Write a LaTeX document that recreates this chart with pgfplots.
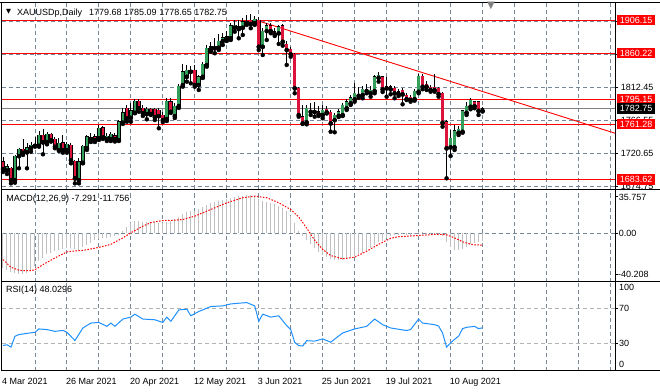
\documentclass[border=0pt]{standalone}
\usepackage{pgfplots}
\pgfplotsset{compat=1.18}
\usepackage{pgfplotstable}
\usepackage{fontspec}
\setmainfont{Liberation Sans}
\newfontfamily\dejavu{DejaVu Sans}
\definecolor{mtgrid}{RGB}{119,136,153}
\definecolor{bull}{RGB}{50,160,90}
\definecolor{bear}{RGB}{220,20,60}
\definecolor{histc}{RGB}{192,192,192}
\definecolor{rsic}{RGB}{30,144,255}

\pgfplotstableread{
i O H L C
0 1708.9 1715.2 1694.3 1698.5
1 1696.4 1705.5 1691.5 1701.7
2 1699.5 1701.7 1678.5 1683.1
3 1683.1 1718.0 1679.4 1716.6
4 1716.6 1727.4 1699.5 1726.0
5 1726.0 1739.9 1718.0 1721.2
6 1721.8 1734.3 1699.5 1728.2
7 1727.8 1736.6 1722.6 1732.0
8 1731.0 1742.7 1729.6 1732.9
9 1731.0 1751.9 1729.6 1745.9
10 1745.9 1754.3 1719.0 1735.7
11 1736.1 1749.7 1732.9 1746.9
12 1746.9 1748.3 1736.6 1738.9
13 1739.9 1743.5 1727.4 1729.6
14 1725.0 1741.3 1723.6 1734.3
15 1735.2 1745.9 1721.2 1725.0
16 1725.0 1736.6 1721.2 1732.9
17 1732.0 1734.3 1706.4 1711.0
18 1709.6 1711.0 1678.5 1685.5
19 1683.1 1713.4 1678.5 1708.7
20 1707.3 1732.0 1706.4 1730.6
21 1727.4 1745.9 1725.0 1743.5
22 1742.7 1748.7 1736.1 1739.9
23 1743.5 1747.3 1736.1 1738.9
24 1741.3 1759.9 1738.9 1755.3
25 1756.1 1758.5 1740.3 1742.7
26 1739.9 1748.7 1737.5 1744.5
27 1739.9 1750.1 1737.5 1746.9
28 1744.9 1748.7 1736.8 1739.9
29 1738.9 1766.8 1737.5 1764.5
30 1763.1 1783.2 1761.3 1777.0
31 1783.2 1787.8 1764.5 1769.2
32 1770.0 1790.1 1764.5 1779.8
33 1777.0 1795.7 1776.2 1793.3
34 1793.3 1795.7 1778.4 1783.2
35 1783.2 1787.8 1772.4 1776.2
36 1775.2 1785.4 1767.8 1781.8
37 1782.2 1783.2 1773.8 1775.2
38 1781.8 1784.0 1766.8 1770.6
39 1780.8 1783.6 1755.3 1772.4
40 1773.8 1778.0 1764.0 1766.8
41 1768.2 1797.5 1765.4 1793.3
42 1792.4 1797.5 1776.6 1778.4
43 1772.4 1790.5 1769.6 1786.4
44 1786.4 1817.1 1783.6 1814.3
45 1815.7 1844.5 1813.3 1834.2
46 1827.2 1843.6 1820.3 1836.6
47 1834.2 1842.6 1818.0 1836.6
48 1836.6 1843.6 1813.3 1815.7
49 1815.7 1829.6 1808.7 1827.2
50 1827.2 1847.7 1825.4 1844.5
51 1843.6 1871.5 1841.2 1866.9
52 1865.5 1876.1 1862.1 1869.1
53 1866.9 1880.8 1859.9 1870.1
54 1867.7 1886.4 1864.5 1877.0
55 1877.0 1887.8 1871.5 1881.6
56 1879.4 1891.0 1877.0 1883.0
57 1880.8 1901.7 1878.4 1898.4
58 1895.6 1906.3 1890.0 1899.4
59 1897.0 1906.3 1880.8 1893.8
60 1895.6 1908.7 1885.4 1904.0
61 1904.9 1913.3 1899.4 1901.7
62 1906.3 1914.3 1894.8 1900.8
63 1902.1 1911.9 1899.4 1907.7
64 1906.3 1910.5 1864.5 1869.1
65 1869.1 1894.8 1857.5 1891.0
66 1891.0 1901.7 1878.4 1898.4
67 1898.4 1901.7 1887.8 1891.0
68 1890.0 1894.8 1884.0 1886.4
69 1887.8 1899.4 1872.9 1897.0
70 1898.4 1900.8 1870.5 1876.1
71 1872.4 1877.0 1843.6 1864.5
72 1865.9 1869.1 1855.1 1858.5
73 1858.5 1859.9 1804.1 1811.1
74 1811.1 1813.3 1771.4 1773.8
75 1771.4 1787.8 1761.3 1762.2
76 1763.6 1787.8 1760.8 1783.2
77 1780.8 1790.1 1773.8 1778.4
78 1778.0 1792.4 1771.4 1780.8
79 1778.4 1786.4 1772.4 1774.8
80 1773.8 1787.8 1769.2 1780.8
81 1781.8 1786.4 1775.9 1777.6
82 1777.6 1780.8 1750.5 1762.2
83 1766.8 1776.6 1749.7 1773.8
84 1772.8 1782.2 1771.0 1778.4
85 1773.8 1790.5 1772.4 1787.8
86 1783.2 1796.1 1780.8 1792.4
87 1790.1 1801.7 1787.8 1797.9
88 1795.7 1818.0 1792.4 1804.1
89 1802.7 1813.3 1797.9 1800.7
90 1801.7 1814.7 1797.1 1809.7
91 1808.7 1816.6 1804.1 1807.3
92 1804.1 1814.7 1799.3 1808.7
93 1807.3 1829.6 1804.1 1827.2
94 1825.8 1834.2 1820.3 1829.6
95 1827.2 1828.6 1805.9 1809.7
96 1811.1 1827.2 1799.3 1813.3
97 1813.3 1815.7 1802.7 1809.7
98 1811.1 1814.3 1797.1 1804.1
99 1806.3 1810.1 1800.3 1803.1
100 1808.7 1811.1 1788.7 1802.7
101 1801.7 1804.1 1794.7 1796.1
102 1798.5 1801.7 1792.4 1794.7
103 1796.1 1809.7 1793.8 1807.3
104 1806.3 1830.6 1804.1 1828.2
105 1828.2 1830.6 1809.7 1813.3
106 1816.6 1821.2 1808.7 1813.3
107 1812.5 1815.7 1806.3 1808.7
108 1812.5 1830.6 1806.3 1808.7
109 1811.1 1813.3 1799.3 1803.1
110 1804.1 1806.3 1757.5 1763.1
111 1764.5 1766.8 1685.5 1727.4
112 1728.8 1752.9 1716.6 1741.3
113 1728.8 1759.9 1725.0 1751.9
114 1749.1 1758.5 1745.9 1753.9
115 1750.5 1780.8 1749.1 1779.8
116 1777.0 1792.4 1773.8 1786.4
117 1785.4 1797.1 1781.8 1794.7
118 1792.4 1793.8 1783.2 1786.4
119 1792.4 1793.8 1773.8 1779.7
120 1779.68 1785.09 1778.65 1782.75
}\ohlc

\pgfplotstableread{
i h
0 -34
1 -36
2 -38
3 -39
4 -40
5 -40.2
6 -39
7 -37
8 -32
9 -27
10 -24
11 -21
12 -19.5
13 -18
14 -17
15 -16
16 -15
17 -14.5
18 -16
19 -16.5
20 -13.5
21 -11.5
22 -9.5
23 -7
24 -5.5
25 -5
26 -5
27 -4
28 -3
29 -1.5
30 2
31 6
32 10
33 12
34 12
35 11.5
36 11.5
37 11.5
38 11
39 10
40 10
41 11
42 12
43 14
44 16
45 18.5
46 20.5
47 21.5
48 22
49 24
50 26
51 28
52 29.5
53 30.5
54 31.5
55 32.5
56 33.5
57 34.5
58 35.5
59 36.5
60 37
61 37.4
62 37.2
63 36.8
64 34
65 32
66 31
67 30
68 28.5
69 27
70 25
71 22
72 17
73 10
74 2
75 -3
76 -7
77 -11
78 -15
79 -18.5
80 -21.5
81 -23.5
82 -25.5
83 -26.5
84 -26.5
85 -26
86 -25
87 -24
88 -22.5
89 -21
90 -19.5
91 -17.5
92 -15
93 -12
94 -9
95 -7.5
96 -4.5
97 -3
98 -2
99 -1.5
100 -1
101 -1.5
102 -2
103 -1
104 1.5
105 1.5
106 0.5
107 -0.5
108 -1
109 -1.5
110 -3
111 -9
112 -14
113 -16.5
114 -17
115 -15.5
116 -13.5
117 -11
118 -9.5
119 -8.5
120 -7.291
}\macdh

\pgfplotstableread{
i s
0 -26
2 -33.6
4 -36.5
5 -37
7 -37
8 -36
10 -31
13 -24.4
16 -18.4
18 -17.5
20 -17
22 -15.5
24 -14
27 -11
30 -4.6
32 0.4
35 6.9
37 10.5
40 12.5
43 12.8
45 13.5
48 16.8
52 23.4
56 30
60 35
63 36.5
66 35
69 30
72 23.4
74 16
76 5
78 -7
80 -16
82 -22
85 -25.3
88 -23.7
91 -17.8
94 -11
97 -5
99 -3.5
101 -3
105 -2
109 -1
111 -1.6
113 -4.6
115 -8.5
117 -10.8
118 -11.5
120 -11.756
}\macds

\pgfplotstableread{
i r
0 28.1
1 28.9
2 26.3
3 38.5
4 40.4
8 43
9 46.7
11 46
13 44
15 45
16 43
18 33.7
20 47.8
22 53.3
24 54
26 49.6
27 53.3
28 49.6
30 57.8
32 60
33 63.3
35 57.8
38 57
40 54
41 60
42 55.2
44 68.1
46 68.9
47 61.5
49 66.3
52 71.9
55 72.6
57 74.8
59 75.6
61 76.3
63 72.6
64 55.2
65 63.3
67 60
69 61.5
71 50.4
72 46
73 31.5
74 28
75 27.5
76 33.5
78 33
80 35.5
82 31.8
85 42.2
88 46.7
91 49.6
93 57.8
95 51.5
97 47.8
101 44.9
102 46
104 57.8
105 53.3
108 51.5
109 50
110 42
111 26.3
112 31
113 35
114 38.5
115 47
116 48.5
118 49.6
119 47
120 48.03
}\rsi

\tikzset{
  plainlab/.style={anchor=west, inner sep=0pt, xshift=5.7bp, text=black},
  boxlab/.style={anchor=west, xshift=1.7bp, fill=#1, text=white, inner xsep=2.9bp, inner ysep=0pt, minimum height=10.5bp},
  datelab/.style={anchor=base west, inner sep=0pt, xshift=-1bp, yshift=-13.5bp},
}
\pgfplotsset{
  mtbase/.style={
    scale only axis, width=613.5bp, xmin=-0.375, xmax=153.15,
    axis line style={black, line width=1bp},
    xtick={8,16,...,152}, xticklabels={}, xmajorgrids,
    xtick style={draw=none},
    major grid style={mtgrid, line width=0.9bp, dash pattern=on 4bp off 3bp},
    ytick pos=right, yticklabels={}, tick align=outside,
    ytick style={black, line width=0.9bp}, major tick length=3bp,
    clip=false,
  },
  wick/.style={only marks, mark=none, error bars/y dir=plus, error bars/y explicit, error bars/error mark=none,
    error bars/error bar style={draw=#1, solid, line width=0.9bp}},
  body/.style={only marks, mark=none, error bars/y dir=plus, error bars/y explicit, error bars/error mark=none,
    error bars/error bar style={draw=#1, solid, line width=3.5bp}},
  bodyin/.style={only marks, mark=none, error bars/y dir=plus, error bars/y explicit, error bars/error mark=none,
    error bars/error bar style={draw=#1, solid, line width=2.7bp}},
}

\begin{document}
\begin{tikzpicture}[font=\fontsize{9bp}{10.8bp}\selectfont]

% ---------------- main price panel ----------------
\begin{axis}[mtbase, name=main, at={(0,0)}, anchor=south west, height=187bp,
  ymin=1669.9, ymax=1930.7,
  ytick={1674.75,1720.65,1766.55,1812.45,1858.35,1904.25}, ymajorgrids]
\addplot[red, line width=0.9bp] coordinates {(-0.375,1906.15) (153.15,1906.15)};
\addplot[red, line width=0.9bp] coordinates {(-0.375,1860.22) (153.15,1860.22)};
\addplot[gray, line width=0.9bp] coordinates {(-0.375,1782.75) (153.15,1782.75)};
\addplot[red, line width=0.9bp] coordinates {(-0.375,1795.15) (153.15,1795.15)};
\addplot[red, line width=0.9bp] coordinates {(-0.375,1761.28) (153.15,1761.28)};
\addplot[red, line width=0.9bp] coordinates {(-0.375,1683.62) (153.15,1683.62)};
\addplot[red, line width=0.9bp] coordinates {(62.6,1907.3) (153.15,1748.4)};
% wicks
\addplot[wick=black] table[x=i, y=L, y error expr=\thisrow{H}-\thisrow{L}] {\ohlc};
% bull bodies
\addplot[body=black, restrict expr to domain={\thisrow{C}-\thisrow{O}}{0:1000}]
  table[x=i, y expr=\thisrow{O}-0.4, y error expr=\thisrow{C}-\thisrow{O}+0.8] {\ohlc};
\addplot[bodyin=bull, restrict expr to domain={\thisrow{C}-\thisrow{O}}{0:1000}]
  table[x=i, y=O, y error expr=\thisrow{C}-\thisrow{O}] {\ohlc};
% bear bodies
\addplot[body=black, restrict expr to domain={\thisrow{C}-\thisrow{O}}{-1000:-0.001}]
  table[x=i, y expr=\thisrow{C}-0.4, y error expr=\thisrow{O}-\thisrow{C}+0.8] {\ohlc};
\addplot[bodyin=bear, restrict expr to domain={\thisrow{C}-\thisrow{O}}{-1000:-0.001}]
  table[x=i, y=C, y error expr=\thisrow{O}-\thisrow{C}] {\ohlc};
% price scale labels
\node[plainlab] at (axis cs:153.15,1904.25) {1904.25};
\node[plainlab] at (axis cs:153.15,1858.35) {1858.35};
\node[plainlab] at (axis cs:153.15,1812.45) {1812.45};
\node[plainlab] at (axis cs:153.15,1766.55) {1766.55};
\node[plainlab] at (axis cs:153.15,1720.65) {1720.65};
\node[plainlab] at (axis cs:153.15,1674.75) {1674.75};
\node[boxlab=red] at (axis cs:153.15,1906.15) {1906.15};
\node[boxlab=red] at (axis cs:153.15,1860.22) {1860.22};
\node[boxlab=red] at (axis cs:153.15,1795.15) {1795.15};
\node[boxlab=red] at (axis cs:153.15,1761.28) {1761.28};
\node[boxlab=red] at (axis cs:153.15,1683.62) {1683.62};
\node[boxlab=black] at (axis cs:153.15,1782.75) {1782.75};
\end{axis}

% ---------------- MACD panel ----------------
\begin{axis}[mtbase, name=macd, at={([yshift=-2bp]main.south west)}, anchor=north west, height=92bp,
  ymin=-47.65, ymax=43.1, ytick={-40.208,0,35.757}]
\addplot[mtgrid, line width=0.9bp, dash pattern=on 4bp off 3bp] coordinates {(-0.375,0) (153.15,0)};
\addplot[ycomb, histc, line width=1bp, mark=none] table[x=i, y=h] {\macdh};
\addplot[red, line width=1bp, dash pattern=on 1.5bp off 1.5bp, mark=none] table[x=i, y=s] {\macds};
\node[plainlab, xshift=-2bp] at (axis cs:153.15,35.757) {35.757};
\node[plainlab, xshift=-2bp] at (axis cs:153.15,0) {0.00};
\node[plainlab, xshift=-2.8bp] at (axis cs:153.15,-40.208) {-40.208};
\end{axis}

% ---------------- RSI panel ----------------
\begin{axis}[mtbase, name=rsi, at={([yshift=-3bp]macd.south west)}, anchor=north west, height=89bp,
  ymin=0, ymax=100, ytick={0,30,70,100}]
\addplot[histc!80!gray, line width=0.9bp, dash pattern=on 4bp off 3bp] coordinates {(-0.375,30) (153.15,30)};
\addplot[histc!80!gray, line width=0.9bp, dash pattern=on 4bp off 3bp] coordinates {(-0.375,70) (153.15,70)};
\addplot[rsic, line width=1bp, mark=none] table[x=i, y=r] {\rsi};
\node[plainlab, xshift=-1.7bp, yshift=-5.5bp] at (axis cs:153.15,100) {100};
\node[plainlab, xshift=-1.7bp] at (axis cs:153.15,70) {70};
\node[plainlab, xshift=-1.7bp] at (axis cs:153.15,30) {30};
\node[plainlab, xshift=-1.7bp, yshift=6bp] at (axis cs:153.15,0) {0};
\node[datelab] at (axis cs:0,0) {4 Mar 2021};
\node[datelab] at (axis cs:16,0) {26 Mar 2021};
\node[datelab] at (axis cs:32,0) {20 Apr 2021};
\node[datelab] at (axis cs:48,0) {12 May 2021};
\node[datelab] at (axis cs:64,0) {3 Jun 2021};
\node[datelab] at (axis cs:80,0) {25 Jun 2021};
\node[datelab] at (axis cs:96,0) {19 Jul 2021};
\node[datelab] at (axis cs:112,0) {10 Aug 2021};
\end{axis}

% window frame lines and captions
\draw[line width=1bp] ([xshift=-1.5bp]main.north west) -- ([xshift=45bp]main.north east);
\draw[line width=1bp] (main.south east) -- ++(45bp,0);
\draw[line width=1bp] (macd.north east) -- ++(45bp,0);
\draw[line width=1bp] (macd.south east) -- ++(45bp,0);
\draw[line width=1bp] (rsi.north east) -- ++(45bp,0);
\draw[line width=1bp] (rsi.south east) -- ++(45bp,0);
\node[anchor=center, inner sep=0pt, font=\dejavu\fontsize{6.5bp}{7bp}\selectfont] at ([xshift=7.2bp,yshift=-9.3bp]main.north west) {▼};
\node[anchor=center, inner sep=0pt, text=gray, font=\dejavu\fontsize{10bp}{10bp}\selectfont] at ([xshift=489.5bp,yshift=-3.2bp]main.north west) {▼};
\node[anchor=base west, inner sep=0pt] at ([xshift=15.5bp,yshift=-12.8bp]main.north west) {XAUUSDp,Daily\hspace{7bp}1779.68 1785.09 1778.65 1782.75};
\node[anchor=base west, inner sep=0pt] at ([xshift=4.8bp,yshift=-12.2bp]macd.north west) {MACD(12,26,9) -7.291 -11.756};
\node[anchor=base west, inner sep=0pt] at ([xshift=4.5bp,yshift=-10.8bp]rsi.north west) {RSI(14) 48.0296};
\pgfresetboundingbox
\useasboundingbox ([xshift=-1.5bp,yshift=2.5bp]main.north west) rectangle ([xshift=45bp,yshift=-21.5bp]rsi.south east);
\end{tikzpicture}
\end{document}
